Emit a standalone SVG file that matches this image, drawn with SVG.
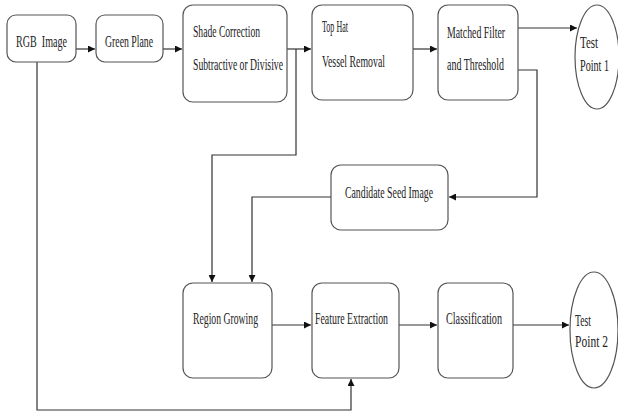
<svg xmlns="http://www.w3.org/2000/svg" width="618" height="415" viewBox="0 0 618 415">
<style>
.box{fill:#fff;stroke:#555;stroke-width:1.2}
.t{font-family:"Liberation Serif","Times New Roman",serif;font-size:17px;fill:#222;white-space:pre}
.c{fill:none;stroke:#333;stroke-width:1.2}
</style>
<defs>
<marker id="ah" viewBox="0 0 10 10" refX="10" refY="5" markerWidth="9" markerHeight="7" markerUnits="userSpaceOnUse" orient="auto">
<path d="M0,0 L10,5 L0,10 z" fill="#111"/>
</marker>
</defs>
<rect width="618" height="415" fill="#fff"/>
<g id="connectors">
<path class="c" d="M76,49 H95" marker-end="url(#ah)"/>
<path class="c" d="M163,49 H182" marker-end="url(#ah)"/>
<path class="c" d="M287,49 H311" marker-end="url(#ah)"/>
<path class="c" d="M296,49 V155 H212 V282" marker-end="url(#ah)"/>
<path class="c" d="M413,49 H437" marker-end="url(#ah)"/>
<path class="c" d="M518,28 H577" marker-end="url(#ah)"/>
<path class="c" d="M518,70 H537 V197 H449" marker-end="url(#ah)"/>
<path class="c" d="M331,197 H252 V282" marker-end="url(#ah)"/>
<path class="c" d="M37,62 V410 H351 V379" marker-end="url(#ah)"/>
<path class="c" d="M272,325 H311" marker-end="url(#ah)"/>
<path class="c" d="M399,325 H437" marker-end="url(#ah)"/>
<path class="c" d="M513,325 H569" marker-end="url(#ah)"/>
</g>
<g id="rgb"><rect class="box" x="7" y="15" width="69" height="47" rx="9"/><text class="t" x="16" y="47" textLength="51" lengthAdjust="spacingAndGlyphs">RGB  Image</text></g>
<g id="green"><rect class="box" x="96" y="15" width="67" height="47" rx="9"/><text class="t" x="105" y="47" textLength="48" lengthAdjust="spacingAndGlyphs">Green Plane</text></g>
<g id="shade"><rect class="box" x="183" y="5" width="104" height="97" rx="10"/><text class="t" x="193" y="37" textLength="67" lengthAdjust="spacingAndGlyphs">Shade Correction</text><text class="t" x="193" y="70" textLength="90" lengthAdjust="spacingAndGlyphs">Subtractive or Divisive</text></g>
<g id="tophat"><rect class="box" x="312" y="5" width="101" height="95" rx="10"/><text class="t" x="322" y="32" textLength="26" lengthAdjust="spacingAndGlyphs">Top Hat</text><text class="t" x="322" y="67" textLength="63" lengthAdjust="spacingAndGlyphs">Vessel Removal</text></g>
<g id="matched"><rect class="box" x="438" y="5" width="80" height="95" rx="10"/><text class="t" x="447" y="38" textLength="58" lengthAdjust="spacingAndGlyphs">Matched Filter</text><text class="t" x="447" y="70" textLength="57" lengthAdjust="spacingAndGlyphs">and Threshold</text></g>
<g id="tp1"><ellipse class="box" cx="597" cy="57" rx="22" ry="52"/><text class="t" x="580" y="48" textLength="18" lengthAdjust="spacingAndGlyphs">Test</text><text class="t" x="580" y="71" textLength="29" lengthAdjust="spacingAndGlyphs">Point 1</text></g>
<g id="candidate"><rect class="box" x="331" y="165" width="117" height="65" rx="10"/><text class="t" x="345" y="198" textLength="88" lengthAdjust="spacingAndGlyphs">Candidate Seed Image</text></g>
<g id="region"><rect class="box" x="183" y="283" width="89" height="95" rx="10"/><text class="t" x="193" y="324" textLength="65" lengthAdjust="spacingAndGlyphs">Region Growing</text></g>
<g id="feature"><rect class="box" x="312" y="283" width="87" height="95" rx="10"/><text class="t" x="315" y="324" textLength="73" lengthAdjust="spacingAndGlyphs">Feature Extraction</text></g>
<g id="classification"><rect class="box" x="438" y="283" width="75" height="95" rx="10"/><text class="t" x="446" y="324" textLength="56" lengthAdjust="spacingAndGlyphs">Classification</text></g>
<g id="tp2"><ellipse class="box" cx="594" cy="330" rx="24" ry="58"/><text class="t" x="575" y="326" textLength="16" lengthAdjust="spacingAndGlyphs">Test</text><text class="t" x="575" y="347" textLength="33" lengthAdjust="spacingAndGlyphs">Point 2</text></g>
</svg>
